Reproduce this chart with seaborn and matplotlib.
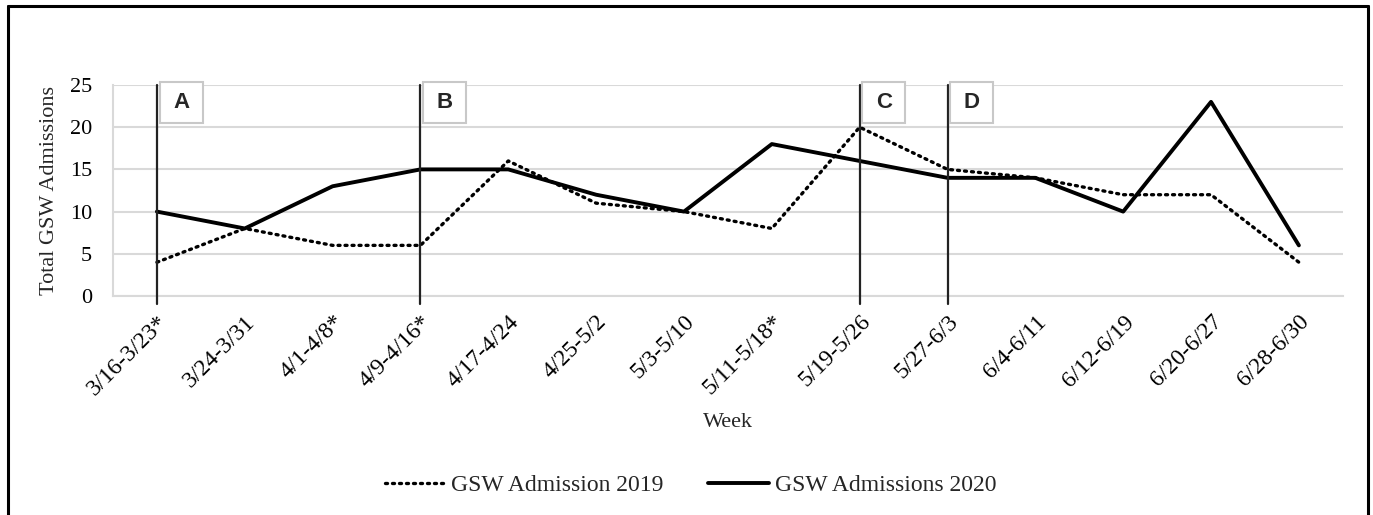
"""
Weekly GSW admissions, 2019 vs 2020, with intervention markers A-D.
"""

import numpy as np
import pandas as pd
import matplotlib
matplotlib.use("Agg")
import matplotlib.pyplot as plt
from matplotlib.lines import Line2D
from matplotlib.patches import Rectangle
import seaborn as sns

# ---------------------------------------------------------------------------
# Data
# ---------------------------------------------------------------------------
WEEKS = ["3/16-3/23*", "3/24-3/31", "4/1-4/8*", "4/9-4/16*", "4/17-4/24",
         "4/25-5/2", "5/3-5/10", "5/11-5/18*", "5/19-5/26", "5/27-6/3",
         "6/4-6/11", "6/12-6/19", "6/20-6/27", "6/28-6/30"]
ADM_2019 = [4, 8, 6, 6, 16, 11, 10, 8, 20, 15, 14, 12, 12, 4]
ADM_2020 = [10, 8, 13, 15, 15, 12, 10, 18, 16, 14, 14, 10, 23, 6]

MARK_WEEKS  = ["3/16-3/23*", "4/9-4/16*", "5/19-5/26", "5/27-6/3"]
MARK_LABELS = ["A", "B", "C", "D"]

Y_TICKS = [0, 5, 10, 15, 20, 25]

SERIF = ["Liberation Serif", "DejaVu Serif"]
GRID  = "#d9d9d9"
FS    = 16

# ---------------------------------------------------------------------------
# Plot
# ---------------------------------------------------------------------------
sns.set_theme(style="white")
plt.rcParams["font.family"] = SERIF

fig = plt.figure(figsize=(13.73, 5.15), dpi=100)
ax = fig.add_axes([0.0823, 0.4252, 0.8957, 0.4098])

sns.lineplot(x=WEEKS, y=ADM_2019, ax=ax, sort=False, color="black",
             linewidth=2.4, linestyle=(0, (0.6, 1.5)), dash_capstyle="round",
             label="GSW Admission 2019")
sns.lineplot(x=WEEKS, y=ADM_2020, ax=ax, sort=False, color="black",
             linewidth=2.8, label="GSW Admissions 2020")

ax.set_xlim(-0.5, len(WEEKS) - 0.5)
ax.set_ylim(0, 25)
ax.set_yticks(Y_TICKS)
ax.yaxis.grid(True, color=GRID, linewidth=1.5)
ax.set_axisbelow(True)

for side in ["top", "right"]:
    ax.spines[side].set_visible(False)
for side in ["left", "bottom"]:
    ax.spines[side].set_color(GRID)
    ax.spines[side].set_linewidth(1.5)

ax.tick_params(axis="both", length=0, colors="black")
ax.tick_params(axis="y", pad=15, labelsize=FS)
ax.tick_params(axis="x", pad=11, labelsize=17)
plt.setp(ax.get_xticklabels(), rotation=45, ha="right",
         rotation_mode="anchor")

ax.set_xlabel("Week", fontsize=FS, labelpad=10)
ax.set_ylabel("Total GSW Admissions", fontsize=FS, labelpad=8)

# intervention markers with labelled boxes
for wk, lab in zip(MARK_WEEKS, MARK_LABELS):
    pos = WEEKS.index(wk)
    ax.plot([pos, pos], [-0.9, 25], color="#222222", linewidth=1.6,
            clip_on=False, zorder=4)
    ax.add_patch(Rectangle((pos + 0.03, 20.45), 0.49, 4.9, fc="white",
                           ec="#c8c8c8", lw=1.5, clip_on=False, zorder=5))
    ax.text(pos + 0.275, 22.9, lab, ha="center", va="center",
            fontsize=16, fontweight="bold", family="Liberation Sans",
            zorder=6)

ax.legend(loc="center", bbox_to_anchor=(0.503, 0.057),
          bbox_transform=fig.transFigure, ncol=2, frameon=False,
          fontsize=17, handlelength=2.55, handletextpad=0.25,
          columnspacing=1.9)

# outer frame (open at the bottom)
for xs, ys in [([0.0055, 0.0055], [0.0, 0.988]),
               ([0.0055, 0.9965], [0.988, 0.988]),
               ([0.9965, 0.9965], [0.988, 0.0])]:
    fig.add_artist(Line2D(xs, ys, transform=fig.transFigure,
                          color="black", linewidth=2.2))

fig.savefig("out.png", dpi=100)
